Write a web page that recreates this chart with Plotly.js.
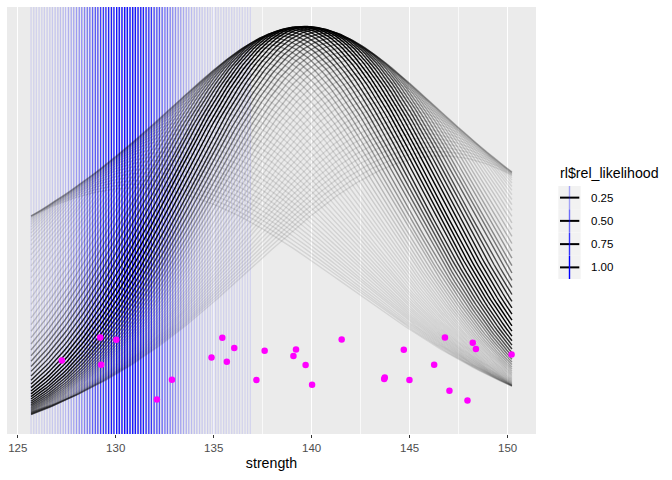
<!DOCTYPE html>
<html>
<head>
<meta charset="utf-8">
<script src="https://cdn.plot.ly/plotly-3.0.1.min.js"></script>
<style>html,body{margin:0;padding:0;background:#fff;}#chart{width:672px;height:480px;}</style>
</head>
<body>
<div id="chart"></div>
<script>
// ---- data ----
const strength = [127.25,129.21,130.03,129.26,132.10,132.87,134.89,135.44,135.67,136.05,
  137.18,137.60,139.07,139.20,139.69,140.02,141.53,144.70,143.70,143.73,
  144.99,146.25,146.80,147.03,148.22,148.38,147.95,150.20];
const pointY = [0.01142,0.01479,0.01446,0.01079,0.00569,0.00858,0.01186,0.01475,0.01123,0.01324,
  0.00854,0.01284,0.01206,0.01303,0.01074,0.00785,0.01450,0.01299,0.00869,0.00892,
  0.00854,0.01079,0.01479,0.00697,0.01402,0.01309,0.00554,0.01230];
const muGrid = [131.0,131.2,131.4,131.6,131.8,132.0,132.2,132.4,132.6,132.8,
  133.0,133.2,133.4,133.6,133.8,134.0,134.2,134.4,134.6,134.8,
  135.0,135.2,135.4,135.6,135.8,136.0,136.2,136.4,136.6,136.8,
  137.0,137.2,137.4,137.6,137.8,138.0,138.2,138.4,138.6,138.8,
  139.0,139.2,139.4,139.6,139.8,140.0,140.2,140.4,140.6,140.8,
  141.0,141.2,141.4,141.6,141.8,142.0,142.2,142.4,142.6,142.8,
  143.0,143.2,143.4,143.6,143.8,144.0,144.2,144.4,144.6,144.8,
  145.0,145.2,145.4,145.6,145.8,146.0,146.2,146.4,146.6];
const vlineX = [125.68,125.82,125.95,126.09,126.23,126.36,126.50,126.64,126.77,126.91,
  127.05,127.18,127.32,127.45,127.59,127.73,127.86,128.00,128.14,128.27,
  128.41,128.55,128.68,128.82,128.96,129.09,129.23,129.37,129.50,129.64,
  129.78,129.91,130.05,130.18,130.32,130.46,130.59,130.73,130.87,131.00,
  131.14,131.28,131.41,131.55,131.69,131.82,131.96,132.10,132.23,132.37,
  132.51,132.64,132.78,132.91,133.05,133.19,133.32,133.46,133.60,133.73,
  133.87,134.01,134.14,134.28,134.41,134.55,134.69,134.82,134.96,135.10,
  135.23,135.37,135.51,135.64,135.78,135.92,136.05,136.19,136.32,136.46,
  136.60,136.73,136.87];
const vlineRel = [0.01,0.01,0.01,0.02,0.02,0.03,0.04,0.05,0.06,0.07,
  0.09,0.10,0.12,0.14,0.17,0.20,0.23,0.27,0.31,0.35,
  0.39,0.44,0.49,0.54,0.59,0.64,0.69,0.74,0.79,0.84,
  0.88,0.91,0.94,0.97,0.99,1.00,1.00,1.00,0.99,0.97,
  0.95,0.91,0.88,0.84,0.79,0.75,0.70,0.64,0.60,0.54,
  0.49,0.44,0.40,0.35,0.31,0.27,0.24,0.20,0.17,0.15,
  0.12,0.10,0.09,0.07,0.06,0.05,0.04,0.03,0.02,0.02,
  0.02,0.01,0.01,0.01,0.01,0.01,0.00,0.00,0.00,0.00,
  0.00,0.00,0.00];
const curveXRange = [125.68, 150.22];
const xTicks = [125,130,135,140,145,150];
const legendBreaks = [0.25,0.50,0.75,1.00];
const legendLabels = ['0.25','0.50','0.75','1.00'];

// ---- model: normal densities with profile sigma per mu ----
const n = strength.length;
function sigmaHat(mu){ let s=0; for(const v of strength){ s+=(v-mu)*(v-mu);} return Math.sqrt(s/n); }
function dnorm(x,m,s){ return Math.exp(-0.5*((x-m)/s)**2)/(s*Math.sqrt(2*Math.PI)); }
const sig = muGrid.map(sigmaHat);
const ll = sig.map(s => -n*Math.log(s) - n/2 - n/2*Math.log(2*Math.PI));
const llMax = Math.max(...ll);
const curveRel = ll.map(v => Math.exp(v - llMax));
const allRel = curveRel.concat(vlineRel);
const rMin = Math.min(...allRel), rMax = Math.max(...allRel);
const alphaOf = r => 0.1 + 0.9*(r - rMin)/(rMax - rMin);

const NS = 160;
const xs = [];
for(let i=0;i<=NS;i++) xs.push(curveXRange[0] + (curveXRange[1]-curveXRange[0])*i/NS);
const curves = muGrid.map((mu,i) => xs.map(x => dnorm(x, mu, sig[i])));

// ranges like ggplot (5% expansion)
let yAll = pointY.slice(); curves.forEach(c => yAll = yAll.concat(c));
const yMin = Math.min(...yAll), yMax = Math.max(...yAll);
const yR = yMax - yMin;
const yRange = [yMin - 0.05*yR, yMax + 0.05*yR];
const xAll = xs.concat(vlineX, strength);
const xMin = Math.min(...xAll), xMax = Math.max(...xAll);
const xR = xMax - xMin;
const xRange = [xMin - 0.05*xR, xMax + 0.05*xR];

const traces = [];
vlineX.forEach((v,i) => traces.push({
  type:'scatter', mode:'lines', x:[v,v], y:yRange,
  line:{color:`rgba(0,0,255,${alphaOf(vlineRel[i]).toFixed(3)})`, width:1.3},
  hoverinfo:'skip', showlegend:false
}));
curves.forEach((c,i) => traces.push({
  type:'scatter', mode:'lines', x:xs, y:c,
  line:{color:`rgba(0,0,0,${alphaOf(curveRel[i]).toFixed(3)})`, width:1.4},
  hoverinfo:'skip', showlegend:false
}));
traces.push({
  type:'scatter', mode:'markers', x:strength, y:pointY,
  marker:{color:'#FF00FF', size:6.5, line:{width:0}},
  hoverinfo:'skip', showlegend:false
});

// ---- layout & manual legend ----
const M = {l:7, r:136, t:7, b:46};
const W = 672, H = 480;
const pw = W - M.l - M.r, ph = H - M.t - M.b;
const px = x => (x - M.l)/pw;
const py = y => (H - M.b - y)/ph;

const shapes = [];
const annotations = [];
const font = 'Liberation Sans, Arial, sans-serif';
const keyX0 = 558.3, keyX1 = 580.7, keyTop = 186, keyH = 23.25;
legendBreaks.forEach((b,i) => {
  const y0 = keyTop + i*keyH, y1 = y0 + keyH, yc = (y0+y1)/2;
  shapes.push({type:'rect', xref:'paper', yref:'paper', x0:px(keyX0), x1:px(keyX1), y0:py(y1), y1:py(y0),
    fillcolor:'#F2F2F2', line:{width:0}, layer:'above'});
  shapes.push({type:'line', xref:'paper', yref:'paper', x0:px(560), x1:px(579.3), y0:py(yc), y1:py(yc),
    line:{color:'rgba(0,0,0,1)', width:2}, layer:'above'});
  shapes.push({type:'line', xref:'paper', yref:'paper', x0:px(569.5), x1:px(569.5), y0:py(y1), y1:py(y0),
    line:{color:`rgba(0,0,255,${alphaOf(b).toFixed(3)})`, width:1.4}, layer:'above'});
  annotations.push({xref:'paper', yref:'paper', x:px(589), y:py(yc), xanchor:'left', yanchor:'middle',
    text:legendLabels[i], showarrow:false, font:{family:font, size:11.5, color:'#000000'}});
});
annotations.push({xref:'paper', yref:'paper', x:px(557.5), y:py(172.7), xanchor:'left', yanchor:'middle',
  text:'rl$rel_likelihood', showarrow:false, font:{family:font, size:14.2, color:'#000000'}});

const layout = {
  width:W, height:H, margin:{l:M.l, r:M.r, t:M.t, b:M.b, pad:0},
  paper_bgcolor:'#FFFFFF', plot_bgcolor:'#EBEBEB',
  font:{family:font},
  showlegend:false,
  xaxis:{
    range:xRange, tickmode:'array', tickvals:xTicks, ticktext:xTicks.map(String),
    ticks:'outside', ticklen:3, tickwidth:1.3, tickcolor:'#333333',
    tickfont:{family:font, size:11.5, color:'#4D4D4D'},
    showgrid:true, gridcolor:'#FFFFFF', gridwidth:1.4,
    minor:{tickvals:[127.5,132.5,137.5,142.5,147.5], showgrid:true, gridcolor:'#FFFFFF', gridwidth:0.7, ticks:''},
    zeroline:false, showline:false,
    title:{text:'strength', font:{family:font, size:14.2, color:'#000000'}, standoff:5}
  },
  yaxis:{
    range:yRange, showticklabels:false, showgrid:false, zeroline:false, ticks:'', showline:false
  },
  shapes:shapes, annotations:annotations
};
Plotly.newPlot('chart', traces, layout, {staticPlot:true, displayModeBar:false});
</script>
</body>
</html>
